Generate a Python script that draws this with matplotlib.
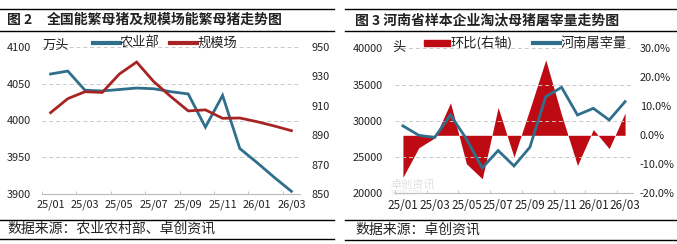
import matplotlib
matplotlib.use("Agg")
import matplotlib.pyplot as plt
from matplotlib.lines import Line2D
from matplotlib.patches import Rectangle
import numpy as np

plt.rcParams['font.family'] = ['Noto Sans CJK SC', 'DejaVu Sans']

months = ["25/01", "25/02", "25/03", "25/04", "25/05", "25/06", "25/07", "25/08",
          "25/09", "25/10", "25/11", "25/12", "26/01", "26/02", "26/03"]
# Chart 2
moa_sows = [4063, 4067, 4041, 4040, 4042, 4044, 4043, 4039, 4036, 3991, 4034, 3962, 3943, 3923, 3904]
farm_sows = [905.3, 914.8, 919.5, 919.0, 931.5, 939.6, 926.3, 916.1, 906.5, 907.2, 901.5, 901.7, 899.2, 896.3, 893.1]
# Chart 3
henan_slaughter = [29300, 28000, 27700, 30800, 27500, 23500, 25900, 23770, 26350, 33330, 34620, 30800, 31720, 30110, 32640]
mom_change = [-14.5, -4.3, -0.9, 11.2, -9.8, -15.0, 9.6, -7.5, 9.0, 26.0, 7.0, -10.4, 2.0, -4.6, 7.7]

W, H = 677, 244
fig = plt.figure(figsize=(W / 100, H / 100), dpi=100)

BLUE = "#2F6F8C"
DRED = "#A82424"
FILLRED = "#BE0A12"
GRID = "#C8C8C8"
TXT = "#222222"


def fx(px):
    return px / W


def fy(py):
    return 1 - py / H


def hline(x0, x1, y, lw=1.0):
    fig.add_artist(Line2D([fx(x0), fx(x1)], [fy(y), fy(y)], color="black", lw=lw))


x = np.arange(len(months))
tick_font = 7.9

# ---------------- Left chart ----------------
hline(0, 334, 9)
hline(0, 334, 30.5)
hline(0, 334, 219.5)
hline(0, 334, 239)
fig.text(fx(7), fy(20), "图 2", fontsize=10, fontweight="bold", va="center", ha="left", color=TXT)
fig.text(fx(47), fy(20), "全国能繁母猪及规模场能繁母猪走势图", fontsize=10, fontweight="bold",
         va="center", ha="left", color=TXT)
fig.text(fx(7), fy(229), "数据来源：农业农村部、卓创资讯", fontsize=10, va="center", ha="left", color=TXT)

axL = fig.add_axes([fx(42), fy(194.3), fx(300) - fx(42), fy(46.7) - fy(194.3)])
axL.plot(x, moa_sows, color=BLUE, lw=2.0, solid_joinstyle="miter", zorder=3)
axL.set_ylim(3900, 4100)
axL.set_yticks([3900, 3950, 4000, 4050, 4100])
axL.set_xlim(-0.5, len(months) - 0.5)
axL.set_xticks(x[::2])
axL.set_xticklabels(months[::2])
axL.set_xticks(np.arange(-0.5, len(months), 2), minor=True)
axL.tick_params(axis="x", which="major", length=0, pad=4, labelsize=tick_font, colors=TXT)
axL.tick_params(axis="x", which="minor", length=2.5, color="#BBBBBB", direction="in")
axL.tick_params(axis="y", length=0, pad=8, labelsize=tick_font, colors=TXT)
for s in ["top", "left", "right"]:
    axL.spines[s].set_visible(False)
axL.spines["bottom"].set_color("#BBBBBB")
axL.spines["bottom"].set_linewidth(0.8)
axL.yaxis.grid(True, color=GRID, ls=(0, (4, 3)), lw=0.7)
axL.set_axisbelow(True)

axL2 = axL.twinx()
axL2.plot(x, farm_sows, color=DRED, lw=2.0, solid_joinstyle="miter", zorder=3)
axL2.set_ylim(850, 950)
axL2.set_yticks([850, 870, 890, 910, 930, 950])
axL2.tick_params(axis="y", length=0, pad=8, labelsize=tick_font, colors=TXT)
for s in ["top", "left", "right", "bottom"]:
    axL2.spines[s].set_visible(False)

# legend left
fig.text(fx(43), fy(45), "万头", fontsize=9.5, va="center", ha="left", color=TXT)
fig.add_artist(Line2D([fx(93), fx(120)], [fy(43), fy(43)], color=BLUE, lw=3))
fig.text(fx(120), fy(43), "农业部", fontsize=9.5, va="center", ha="left", color=TXT)
fig.add_artist(Line2D([fx(170), fx(197)], [fy(43), fy(43)], color=DRED, lw=3))
fig.text(fx(198), fy(43), "规模场", fontsize=9.5, va="center", ha="left", color=TXT)

# ---------------- Right chart ----------------
hline(345, 677, 9)
hline(345, 677, 30.5)
hline(345, 677, 219.5)
hline(345, 677, 240)
fig.text(fx(355), fy(20), "图 3 河南省样本企业淘汰母猪屠宰量走势图", fontsize=10, fontweight="bold",
         va="center", ha="left", color=TXT)
fig.text(fx(355), fy(229.5), "数据来源：卓创资讯", fontsize=10, va="center", ha="left", color=TXT)

axR = fig.add_axes([fx(395), fy(193.3), fx(633) - fx(395), fy(48.3) - fy(193.3)])
axR.set_ylim(20000, 40000)
axR.set_yticks([20000, 25000, 30000, 35000, 40000])
axR.set_xlim(-0.5, len(months) - 0.5)
axR.set_xticks(x[::2])
axR.set_xticklabels(months[::2])
axR.set_xticks(np.arange(-0.5, len(months), 2), minor=True)
axR.tick_params(axis="x", which="major", length=0, pad=4, labelsize=8.4, colors=TXT)
axR.tick_params(axis="x", which="minor", length=2.5, color="#BBBBBB", direction="in")
axR.tick_params(axis="y", length=0, pad=9, labelsize=tick_font, colors=TXT)
for s in ["top", "left", "right"]:
    axR.spines[s].set_visible(False)
axR.spines["bottom"].set_color("#BBBBBB")
axR.spines["bottom"].set_linewidth(0.8)
axR.yaxis.grid(True, color=GRID, ls=(0, (4, 3)), lw=0.7)
axR.set_axisbelow(True)

axR2 = axR.twinx()
axR2.fill_between(x, 0, mom_change, color=FILLRED, lw=0, zorder=1)
axR2.set_ylim(-20, 30)
axR2.set_yticks([-20, -10, 0, 10, 20, 30])
axR2.set_yticklabels([f"{v:.1f}%" for v in [-20, -10, 0, 10, 20, 30]])
axR2.tick_params(axis="y", length=0, pad=5, labelsize=tick_font, colors=TXT)
for s in ["top", "left", "right", "bottom"]:
    axR2.spines[s].set_visible(False)

# draw blue line on top of the fill
axR.set_zorder(axR2.get_zorder() + 1)
axR.patch.set_visible(False)
axR.plot(x, henan_slaughter, color=BLUE, lw=2.0, solid_joinstyle="miter", zorder=3)

# legend right
fig.text(fx(392), fy(47), "头", fontsize=9.5, va="center", ha="left", color=TXT)
fig.add_artist(Rectangle((fx(424), fy(46)), fx(26), fy(40) - fy(46), color=FILLRED))
fig.text(fx(451), fy(43), "环比(右轴)", fontsize=9.5, va="center", ha="left", color=TXT)
fig.add_artist(Line2D([fx(533), fx(560)], [fy(43), fy(43)], color=BLUE, lw=3))
fig.text(fx(561), fy(43), "河南屠宰量", fontsize=9.5, va="center", ha="left", color=TXT)

# watermark
fig.text(fx(390), fy(184), "卓创资讯", fontsize=8, va="center", ha="left", color="#E0E0E0")
fig.text(fx(391), fy(193), "SCI99.COM", fontsize=4.5, va="center", ha="left", color="#E3E3E3")

fig.savefig("out.png", dpi=100)
